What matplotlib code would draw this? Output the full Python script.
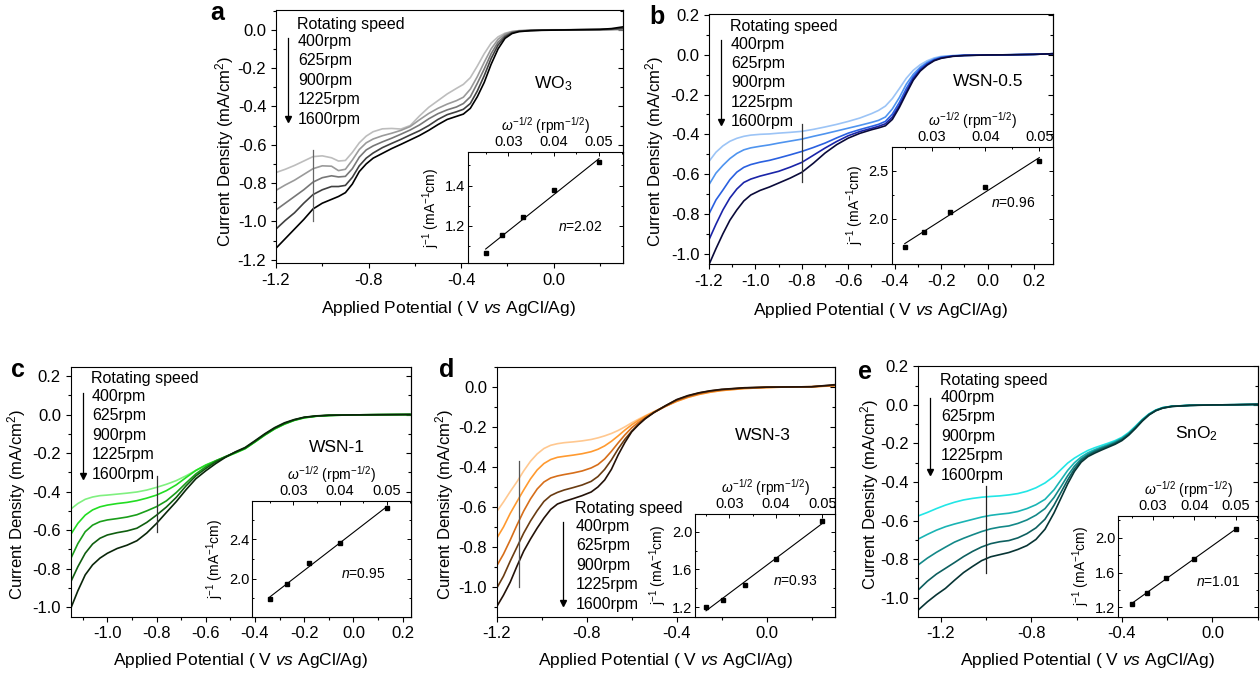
import numpy as np
import matplotlib
matplotlib.use("Agg")
import matplotlib.pyplot as plt
from matplotlib.ticker import MultipleLocator, FormatStrFormatter

plt.rcParams['font.family'] = ['Liberation Sans', 'DejaVu Sans']
plt.rcParams['mathtext.fontset'] = 'custom'
plt.rcParams['mathtext.rm'] = 'Liberation Sans'
plt.rcParams['mathtext.it'] = 'Liberation Sans:italic'
plt.rcParams['mathtext.bf'] = 'Liberation Sans:bold'
plt.rcParams['axes.unicode_minus'] = False

W, H = 1260, 675

speeds = ['400rpm', '625rpm', '900rpm', '1225rpm', '1600rpm']
# inset x values: omega^-1/2 for 1600, 1225, 900, 625, 400 rpm
rpm = np.array([1600, 1225, 900, 625, 400])
omega = 1 / np.sqrt(rpm)

# ---- panel a: WO3
pot_a = [-1.2, -1.16, -1.12, -1.08, -1.04, -1.0, -0.96, -0.93, -0.9, -0.87, -0.84, -0.81, -0.78,
         -0.74, -0.7, -0.66, -0.62, -0.58, -0.54, -0.5, -0.46, -0.42, -0.39, -0.36, -0.33, -0.3,
         -0.27, -0.24, -0.21, -0.18, -0.15, -0.1, -0.05, 0.0, 0.1, 0.2, 0.25, 0.3]
a_400 = [-0.745, -0.728, -0.708, -0.685, -0.662, -0.658, -0.668, -0.685, -0.682, -0.64, -0.59, -0.555, -0.532,
         -0.517, -0.515, -0.518, -0.5, -0.45, -0.405, -0.37, -0.335, -0.306, -0.285, -0.25, -0.19, -0.125,
         -0.07, -0.037, -0.018, -0.009, -0.005, -0.002, -0.001, 0.0, 0.0, 0.0, 0.0, 0.0]
a_625 = [-0.838, -0.81, -0.785, -0.755, -0.725, -0.71, -0.712, -0.735, -0.728, -0.68, -0.625, -0.59, -0.57,
         -0.553, -0.54, -0.525, -0.505, -0.47, -0.437, -0.41, -0.388, -0.37, -0.352, -0.31, -0.245, -0.17,
         -0.1, -0.05, -0.022, -0.01, -0.005, -0.003, -0.001, -0.001, 0.0, 0.0, 0.001, 0.003]
a_900 = [-0.94, -0.905, -0.87, -0.835, -0.795, -0.772, -0.762, -0.768, -0.765, -0.725, -0.665, -0.627, -0.606,
         -0.585, -0.566, -0.545, -0.523, -0.497, -0.465, -0.438, -0.418, -0.403, -0.385, -0.35, -0.28, -0.205,
         -0.125, -0.065, -0.03, -0.013, -0.007, -0.003, -0.002, -0.001, 0.0, 0.001, 0.002, 0.005]
a_1225 = [-1.04, -0.995, -0.955, -0.905, -0.86, -0.835, -0.818, -0.818, -0.812, -0.77, -0.71, -0.67, -0.643,
          -0.615, -0.593, -0.572, -0.549, -0.527, -0.5, -0.468, -0.443, -0.428, -0.415, -0.385, -0.32, -0.24,
          -0.15, -0.08, -0.037, -0.016, -0.008, -0.004, -0.002, -0.001, 0.0, 0.001, 0.003, 0.008]
a_1600 = [-1.14, -1.09, -1.04, -0.99, -0.935, -0.905, -0.885, -0.87, -0.85, -0.805, -0.74, -0.70, -0.67,
          -0.645, -0.62, -0.598, -0.575, -0.552, -0.525, -0.495, -0.468, -0.452, -0.44, -0.41, -0.35, -0.275,
          -0.18, -0.10, -0.045, -0.02, -0.01, -0.005, -0.003, -0.002, 0.0, 0.002, 0.006, 0.015]
inv_a = [1.065, 1.154, 1.246, 1.377, 1.516]

# ---- panel b: WSN-0.5
pot_b = [-1.2, -1.17, -1.14, -1.11, -1.08, -1.05, -1.02, -0.98, -0.94, -0.9, -0.85, -0.8, -0.75, -0.7,
         -0.65, -0.6, -0.55, -0.5, -0.47, -0.44, -0.41, -0.38, -0.35, -0.32, -0.29, -0.26, -0.23, -0.2,
         -0.15, -0.1, 0.0, 0.1, 0.2, 0.3]
b_400 = [-0.536, -0.49, -0.458, -0.435, -0.42, -0.41, -0.404, -0.4, -0.398, -0.394, -0.39, -0.385, -0.375,
         -0.363, -0.35, -0.335, -0.318, -0.296, -0.28, -0.258, -0.22, -0.17, -0.118, -0.078, -0.05, -0.03,
         -0.016, -0.008, -0.004, -0.002, -0.001, 0.0, 0.002, 0.006]
b_625 = [-0.653, -0.595, -0.556, -0.522, -0.496, -0.478, -0.468, -0.46, -0.453, -0.444, -0.434, -0.424, -0.41,
         -0.397, -0.383, -0.369, -0.355, -0.34, -0.33, -0.313, -0.272, -0.215, -0.148, -0.098, -0.062, -0.038,
         -0.021, -0.011, -0.005, -0.003, -0.001, 0.0, 0.002, 0.006]
b_900 = [-0.80, -0.73, -0.68, -0.628, -0.59, -0.566, -0.552, -0.54, -0.531, -0.519, -0.503, -0.486, -0.466,
         -0.444, -0.418, -0.394, -0.376, -0.36, -0.35, -0.335, -0.298, -0.24, -0.17, -0.11, -0.07, -0.043,
         -0.025, -0.014, -0.006, -0.003, -0.001, 0.0, 0.002, 0.006]
b_1225 = [-0.93, -0.852, -0.78, -0.72, -0.675, -0.642, -0.625, -0.61, -0.598, -0.586, -0.565, -0.541, -0.505,
          -0.469, -0.436, -0.407, -0.386, -0.37, -0.36, -0.347, -0.313, -0.255, -0.185, -0.12, -0.077, -0.048,
          -0.028, -0.016, -0.007, -0.003, -0.001, 0.0, 0.002, 0.006]
b_1600 = [-1.055, -0.975, -0.9, -0.832, -0.78, -0.735, -0.705, -0.682, -0.665, -0.645, -0.62, -0.591, -0.545,
          -0.494, -0.452, -0.419, -0.395, -0.377, -0.368, -0.357, -0.325, -0.265, -0.195, -0.128, -0.082, -0.052,
          -0.03, -0.018, -0.008, -0.004, -0.001, 0.0, 0.002, 0.006]
inv_b = [1.708, 1.861, 2.07, 2.33, 2.60]

# ---- panel c: WSN-1
pot_c = [-1.15, -1.12, -1.09, -1.06, -1.03, -1.0, -0.96, -0.92, -0.88, -0.84, -0.8, -0.76, -0.72, -0.68,
         -0.64, -0.6, -0.56, -0.52, -0.48, -0.44, -0.4, -0.36, -0.32, -0.28, -0.24, -0.2, -0.15, -0.1,
         0.0, 0.1, 0.23]
c_400 = [-0.492, -0.462, -0.44, -0.428, -0.421, -0.418, -0.413, -0.408, -0.402, -0.392, -0.378, -0.362, -0.343,
         -0.318, -0.29, -0.263, -0.243, -0.222, -0.2, -0.176, -0.142, -0.107, -0.075, -0.05, -0.031, -0.018,
         -0.009, -0.005, -0.002, -0.001, 0.0]
c_625 = [-0.625, -0.565, -0.522, -0.495, -0.479, -0.47, -0.462, -0.456, -0.447, -0.434, -0.418, -0.395, -0.365,
         -0.327, -0.29, -0.262, -0.24, -0.22, -0.2, -0.178, -0.143, -0.107, -0.075, -0.05, -0.03, -0.017,
         -0.009, -0.005, -0.002, -0.001, 0.0]
c_900 = [-0.751, -0.67, -0.608, -0.574, -0.556, -0.547, -0.54, -0.532, -0.52, -0.5, -0.478, -0.448, -0.405,
         -0.355, -0.308, -0.271, -0.241, -0.218, -0.197, -0.175, -0.141, -0.105, -0.073, -0.048, -0.029, -0.016,
         -0.008, -0.005, -0.002, -0.001, 0.0]
c_1225 = [-0.872, -0.79, -0.72, -0.672, -0.642, -0.625, -0.613, -0.604, -0.59, -0.56, -0.522, -0.48, -0.43,
          -0.37, -0.318, -0.28, -0.246, -0.22, -0.196, -0.174, -0.139, -0.103, -0.071, -0.046, -0.028, -0.015,
          -0.008, -0.004, -0.002, -0.001, 0.0]
c_1600 = [-1.01, -0.915, -0.832, -0.78, -0.745, -0.72, -0.695, -0.678, -0.655, -0.615, -0.565, -0.508, -0.452,
          -0.39, -0.333, -0.292, -0.255, -0.222, -0.194, -0.171, -0.136, -0.1, -0.068, -0.043, -0.026, -0.014,
          -0.007, -0.004, -0.002, -0.001, 0.0]
inv_c = [1.79, 1.946, 2.157, 2.366, 2.719]

# ---- panel d: WSN-3
pot_d = [-1.2, -1.17, -1.14, -1.11, -1.08, -1.05, -1.02, -0.99, -0.96, -0.93, -0.9, -0.86, -0.82, -0.78,
         -0.75, -0.72, -0.69, -0.66, -0.63, -0.6, -0.57, -0.54, -0.5, -0.45, -0.4, -0.35, -0.3, -0.25,
         -0.2, -0.1, 0.0, 0.1, 0.2, 0.3]
d_400 = [-0.623, -0.575, -0.523, -0.474, -0.42, -0.372, -0.335, -0.308, -0.292, -0.284, -0.279, -0.275, -0.27,
         -0.263, -0.255, -0.245, -0.233, -0.218, -0.2, -0.18, -0.162, -0.145, -0.123, -0.097, -0.073, -0.053,
         -0.038, -0.027, -0.019, -0.009, -0.004, -0.001, 0.0, 0.004]
d_625 = [-0.756, -0.7, -0.632, -0.573, -0.515, -0.46, -0.415, -0.383, -0.363, -0.352, -0.347, -0.341, -0.334,
         -0.324, -0.312, -0.295, -0.272, -0.245, -0.216, -0.19, -0.168, -0.148, -0.125, -0.098, -0.073, -0.053,
         -0.038, -0.027, -0.019, -0.009, -0.004, -0.001, 0.0, 0.005]
d_900 = [-0.894, -0.835, -0.765, -0.69, -0.62, -0.56, -0.51, -0.475, -0.455, -0.445, -0.438, -0.43, -0.42,
         -0.405, -0.388, -0.36, -0.322, -0.28, -0.24, -0.205, -0.178, -0.155, -0.128, -0.098, -0.07, -0.05,
         -0.035, -0.024, -0.016, -0.007, -0.003, -0.001, 0.0, 0.006]
d_1225 = [-1.005, -0.945, -0.87, -0.8, -0.73, -0.67, -0.618, -0.572, -0.543, -0.527, -0.515, -0.503, -0.49,
          -0.472, -0.448, -0.412, -0.365, -0.31, -0.262, -0.222, -0.188, -0.158, -0.127, -0.095, -0.066, -0.046,
          -0.031, -0.021, -0.014, -0.006, -0.002, -0.001, 0.0, 0.008]
d_1600 = [-1.097, -1.04, -0.975, -0.895, -0.82, -0.76, -0.705, -0.655, -0.612, -0.585, -0.572, -0.558, -0.543,
          -0.525, -0.5, -0.465, -0.412, -0.34, -0.278, -0.225, -0.19, -0.16, -0.128, -0.095, -0.064, -0.044,
          -0.03, -0.02, -0.013, -0.005, -0.002, -0.001, 0.0, 0.01]
inv_d = [1.203, 1.277, 1.43, 1.706, 2.109]

# ---- panel e: SnO2
pot_e = [-1.3, -1.26, -1.22, -1.18, -1.14, -1.1, -1.06, -1.02, -0.98, -0.94, -0.9, -0.86, -0.82, -0.78,
         -0.74, -0.7, -0.67, -0.64, -0.61, -0.58, -0.55, -0.52, -0.49, -0.46, -0.43, -0.4, -0.37, -0.34,
         -0.31, -0.28, -0.25, -0.22, -0.18, -0.1, 0.0, 0.1, 0.2]
e_400 = [-0.576, -0.558, -0.538, -0.52, -0.505, -0.493, -0.485, -0.479, -0.475, -0.472, -0.467, -0.46, -0.448,
         -0.43, -0.405, -0.37, -0.336, -0.302, -0.276, -0.255, -0.236, -0.222, -0.21, -0.198, -0.185, -0.168,
         -0.143, -0.11, -0.075, -0.046, -0.026, -0.014, -0.007, -0.002, 0.0, 0.001, 0.003]
e_625 = [-0.696, -0.672, -0.65, -0.632, -0.618, -0.606, -0.594, -0.582, -0.573, -0.567, -0.562, -0.553, -0.538,
         -0.518, -0.49, -0.44, -0.39, -0.34, -0.3, -0.27, -0.248, -0.232, -0.218, -0.205, -0.19, -0.172,
         -0.147, -0.113, -0.077, -0.048, -0.027, -0.014, -0.007, -0.002, 0.0, 0.001, 0.003]
e_900 = [-0.83, -0.795, -0.765, -0.738, -0.712, -0.692, -0.674, -0.657, -0.643, -0.634, -0.628, -0.615, -0.597,
         -0.572, -0.538, -0.48, -0.425, -0.368, -0.318, -0.28, -0.256, -0.238, -0.223, -0.21, -0.195, -0.176,
         -0.15, -0.116, -0.079, -0.049, -0.028, -0.015, -0.007, -0.002, 0.0, 0.001, 0.003]
e_1225 = [-0.96, -0.915, -0.878, -0.848, -0.818, -0.787, -0.76, -0.737, -0.72, -0.71, -0.704, -0.69, -0.668,
          -0.638, -0.593, -0.52, -0.455, -0.39, -0.332, -0.288, -0.262, -0.243, -0.228, -0.214, -0.199, -0.18,
          -0.153, -0.119, -0.081, -0.05, -0.029, -0.016, -0.008, -0.002, 0.0, 0.001, 0.003]
e_1600 = [-1.064, -1.022, -0.985, -0.952, -0.91, -0.87, -0.838, -0.808, -0.788, -0.777, -0.766, -0.75, -0.73,
          -0.698, -0.645, -0.56, -0.485, -0.41, -0.345, -0.297, -0.268, -0.25, -0.234, -0.219, -0.204, -0.185,
          -0.157, -0.122, -0.084, -0.052, -0.03, -0.017, -0.008, -0.003, 0.0, 0.001, 0.003]
inv_e = [1.241, 1.368, 1.537, 1.752, 2.103]


def box(l, t, r, b):
    # pixel box of the 1260x675 picture -> figure fraction
    return [l / W, 1 - b / H, (r - l) / W, (b - t) / H]


def put(fig, x, y, s, **kw):
    fig.text(x / W, 1 - y / H, s, **kw)


panels = [
    dict(letter='a', name='WO$_3$', pot=pot_a, curves=[a_400, a_625, a_900, a_1225, a_1600],
         colors=['#bdbdbd', '#9a9a9a', '#777777', '#404040', '#000000'],
         ax=(276, 10, 623, 263), ins=(468, 152, 623, 263),
         xlim=(-1.2, 0.3), ylim=(-1.217, 0.103), xmaj=0.4, xmin=0.2,
         ilim=(0.0211, 0.0553), iylim=(1.016, 1.567), iymaj=0.2, iymin=0.1, inv=inv_a, n='2.02',
         mark=(-1.04, -0.63, -1.0), mark_c='#666666',
         leg=(297, 24, 287.7, 38, 123), name_xy=(553, 84), n_xy=(580, 227),
         letter_xy=(217, 13), ylab_xy=(225, 152), xlab_xy=(448, 308)),
    dict(letter='b', name='WSN-0.5', pot=pot_b, curves=[b_400, b_625, b_900, b_1225, b_1600],
         colors=['#9cc4f6', '#4f94ef', '#2a60e0', '#1a24a8', '#0a0a3a'],
         ax=(709, 14, 1053, 264), ins=(891.7, 146.7, 1053, 264),
         xlim=(-1.2, 0.282), ylim=(-1.052, 0.205), xmaj=0.2, xmin=0.1,
         ilim=(0.02257, 0.05255), iylim=(1.528, 2.753), iymaj=0.5, iymin=0.25, inv=inv_b, n='0.96',
         mark=(-0.8, -0.35, -0.64), mark_c='#333333',
         leg=(730, 26.7, 721, 40, 126), name_xy=(988, 82), n_xy=(1013, 203),
         letter_xy=(657, 17), ylab_xy=(655, 152), xlab_xy=(880, 310)),
    dict(letter='c', name='WSN-1', pot=pot_c, curves=[c_400, c_625, c_900, c_1225, c_1600],
         colors=['#80f080', '#22dd22', '#1a9e1a', '#0f5e0f', '#0a260a'],
         ax=(70.7, 366.7, 410.7, 616.7), ins=(252.3, 501, 410.7, 616.7),
         xlim=(-1.149, 0.233), ylim=(-1.049, 0.248), xmaj=0.2, xmin=0.1,
         ilim=(0.02122, 0.05514), iylim=(1.613, 2.79), iymaj=0.4, iymin=0.2, inv=inv_c, n='0.95',
         mark=(-0.8, -0.32, -0.61), mark_c='#333333',
         leg=(91, 379, 83.3, 393, 480), name_xy=(337, 447), n_xy=(363, 574),
         letter_xy=(18, 370), ylab_xy=(17, 505), xlab_xy=(240, 660)),
    dict(letter='d', name='WSN-3', pot=pot_d, curves=[d_400, d_625, d_900, d_1225, d_1600],
         colors=['#ffc890', '#ff9a30', '#d66e1a', '#6a3c12', '#241208'],
         ax=(496.7, 366.7, 835, 616.7), ins=(695, 514, 835, 616.7),
         xlim=(-1.2, 0.304), ylim=(-1.147, 0.1), xmaj=0.4, xmin=0.2,
         ilim=(0.02263, 0.05273), iylim=(1.097, 2.188), iymaj=0.4, iymin=0.2, inv=inv_d, n='0.93',
         mark=(-1.1, -0.37, -1.0), mark_c='#555555',
         leg=(575, 509, 563.3, 521.7, 607.3), name_xy=(763, 435), n_xy=(795, 581),
         letter_xy=(447, 370), ylab_xy=(445, 505), xlab_xy=(665, 660)),
    dict(letter='e', name='SnO$_2$', pot=pot_e, curves=[e_400, e_625, e_900, e_1225, e_1600],
         colors=['#22e6e6', '#1ab4b4', '#138888', '#0d5f5f', '#073434'],
         ax=(918.3, 366, 1257.7, 616.7), ins=(1118.3, 515.7, 1257.7, 616.7),
         xlim=(-1.3, 0.2), ylim=(-1.099, 0.202), xmaj=0.4, xmin=0.2,
         ilim=(0.02179, 0.0552), iylim=(1.092, 2.253), iymaj=0.4, iymin=0.2, inv=inv_e, n='1.01',
         mark=(-1.0, -0.42, -0.87), mark_c='#222222',
         leg=(940, 380, 930, 397.7, 476), name_xy=(1197, 434), n_xy=(1218, 582),
         letter_xy=(865, 372), ylab_xy=(870, 495), xlab_xy=(1087, 660)),
]

fig = plt.figure(figsize=(12.6, 6.75), dpi=100)

for p in panels:
    ax = fig.add_axes(box(*p['ax']))
    for y, col in zip(p['curves'], p['colors']):
        ax.plot(p['pot'], y, color=col, lw=1.2)
    mx, m0, m1 = p['mark']
    ax.plot([mx, mx], [m0, m1], color=p['mark_c'], lw=0.9)
    ax.set_xlim(*p['xlim'])
    ax.set_ylim(*p['ylim'])
    ax.xaxis.set_major_locator(MultipleLocator(p['xmaj']))
    ax.xaxis.set_minor_locator(MultipleLocator(p['xmin']))
    ax.yaxis.set_major_locator(MultipleLocator(0.2))
    ax.yaxis.set_minor_locator(MultipleLocator(0.1))
    ax.xaxis.set_major_formatter(FormatStrFormatter('%.1f'))
    ax.yaxis.set_major_formatter(FormatStrFormatter('%.1f'))
    ax.tick_params(which='both', direction='out', labelsize=12, width=0.8)
    ax.tick_params(which='major', length=3.5)
    ax.tick_params(which='minor', length=2)
    for s in ax.spines.values():
        s.set_linewidth(0.8)
    sec = ax.secondary_yaxis('right')
    sec.yaxis.set_major_locator(MultipleLocator(0.2))
    sec.yaxis.set_minor_locator(MultipleLocator(0.1))
    sec.tick_params(which='both', direction='in', labelright=False, width=0.8)
    sec.tick_params(which='major', length=3.5)
    sec.tick_params(which='minor', length=2)

    # inset: Koutecky-Levich plot
    ins = fig.add_axes(box(*p['ins']))
    inv = np.array(p['inv'])
    k, c0 = np.polyfit(omega, inv, 1)
    xs = np.array([omega.min(), omega.max()])
    ins.plot(xs, k * xs + c0, color='k', lw=0.8)
    ins.plot(omega, inv, 's', color='k', ms=2.3)
    ins.set_xlim(*p['ilim'])
    ins.set_ylim(*p['iylim'])
    ins.xaxis.tick_top()
    ins.xaxis.set_label_position('top')
    ins.xaxis.set_major_locator(MultipleLocator(0.01))
    ins.xaxis.set_minor_locator(MultipleLocator(0.005))
    ins.yaxis.set_major_locator(MultipleLocator(p['iymaj']))
    ins.yaxis.set_minor_locator(MultipleLocator(p['iymin']))
    ins.xaxis.set_major_formatter(FormatStrFormatter('%.2f'))
    ins.yaxis.set_major_formatter(FormatStrFormatter('%.1f'))
    ins.tick_params(which='both', direction='in', top=True, bottom=False, right=True,
                    labelsize=10.5, width=0.7, pad=2)
    ins.tick_params(which='major', length=3)
    ins.tick_params(which='minor', length=1.6)
    for s in ins.spines.values():
        s.set_linewidth(0.8)
    ins.set_xlabel(r'$\omega^{-1/2}$ (rpm$^{-1/2}$)', fontsize=10, labelpad=3)
    ins.set_ylabel(r'j$^{-1}$ (mA$^{-1}$cm)', fontsize=10, labelpad=2)

    # rotating speed legend text with arrow
    tx, ty, axx, ay0, ay1 = p['leg']
    put(fig, tx, ty, 'Rotating speed', fontsize=11.5, va='center', ha='left')
    for i, s in enumerate(speeds):
        put(fig, tx + 1, ty + 17.5 + i * 19.4, s, fontsize=11.5, va='center', ha='left')
    fig.add_artist(plt.Line2D([axx / W, axx / W], [1 - ay0 / H, 1 - (ay1 - 6) / H],
                              color='k', lw=0.9))
    fig.add_artist(plt.Line2D([axx / W], [1 - (ay1 - 4) / H], marker='v', color='k',
                              ms=4.5, lw=0))

    put(fig, *p['name_xy'], p['name'], fontsize=12.5, ha='center', va='center')
    put(fig, *p['n_xy'], '$n$=' + p['n'], fontsize=10, ha='center', va='center')
    put(fig, *p['letter_xy'], p['letter'], fontsize=18, fontweight='bold', ha='center', va='center')
    put(fig, *p['ylab_xy'], 'Current Density (mA/cm$^2$)', fontsize=12, rotation=90,
        ha='center', va='center')
    put(fig, *p['xlab_xy'], 'Applied Potential ( V $vs$ AgCl/Ag)', fontsize=12.5,
        ha='center', va='center')

fig.savefig('out.png', dpi=100)
